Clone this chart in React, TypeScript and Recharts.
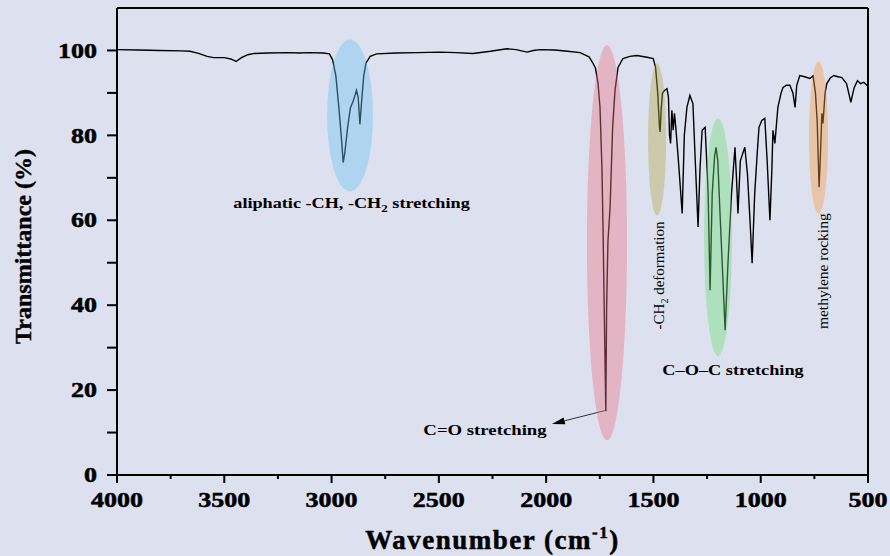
import React from "react";
import {
  LineChart,
  Line,
  XAxis,
  YAxis,
  ReferenceArea,
  ReferenceLine,
  ReferenceDot,
} from "recharts";

// FTIR spectrum
const wavenumbers = [
  4000, 3900, 3800, 3700, 3660, 3620, 3580, 3550, 3500, 3470, 3445, 3420, 3390,
  3360, 3300, 3200, 3150, 3100, 3040, 3010, 2995, 2980, 2965, 2952, 2946, 2938,
  2925, 2912, 2900, 2890, 2884, 2876, 2868, 2860, 2850, 2840, 2820, 2790, 2700,
  2600, 2495, 2420, 2341, 2260, 2183, 2140, 2089, 2060, 2029, 1960, 1900, 1842,
  1800, 1782, 1770, 1758, 1749, 1740, 1735, 1728, 1722, 1718, 1712, 1702, 1690,
  1679, 1665, 1642, 1610, 1577, 1530, 1501, 1490, 1480, 1472, 1469, 1464, 1458,
  1450, 1437, 1430, 1425, 1420, 1414, 1408, 1402, 1396, 1385, 1375, 1366, 1356,
  1344, 1330, 1316, 1305, 1292, 1283, 1273, 1259, 1250, 1245, 1236, 1226, 1215,
  1208, 1200, 1190, 1180, 1166, 1152, 1136, 1120, 1113, 1106, 1095, 1074, 1062,
  1050, 1040, 1028, 1016, 1008, 995, 981, 970, 957, 948, 943, 934, 920, 905,
  896, 880, 864, 850, 840, 832, 818, 795, 771, 756, 745, 737, 728, 722, 715,
  710, 700, 692, 676, 659, 640, 622, 600, 590, 580, 570, 564, 549, 535, 520,
  505, 500,
];
const transmittance = [
  100.2, 100.1, 100.0, 99.9, 99.8, 99.3, 98.6, 98.3, 98.3, 98.0, 97.4, 98.3,
  99.0, 99.3, 99.4, 99.5, 99.4, 99.5, 99.4, 99.2, 97.8, 94, 86, 78, 73.6, 76,
  82, 86.5, 88, 89.5, 90.6, 89, 82.6, 88, 94, 97, 98.6, 99.2, 99.4, 99.5, 99.6,
  99.5, 99.3, 99.8, 100.4, 100.2, 99.6, 100.0, 100.2, 100.1, 99.8, 99.5, 98.5,
  97, 95.8, 92.2, 86.6, 72.5, 58.4, 35, 15, 40, 55, 63, 82, 90.6, 96, 98.1,
  98.6, 98.8, 98.4, 98.1, 96, 90, 82, 80.8, 86, 89.9, 90.5, 91, 89, 80, 78.1,
  85.9, 81.2, 85.2, 82, 75, 68, 61.6, 80, 86.6, 89.4, 87.5, 74, 58.4, 72, 81.2,
  81.9, 72, 66.3, 43.5, 66.3, 75, 77.2, 74, 62, 50.6, 34.1, 50.6, 66.3, 77.2,
  70, 61.6, 74, 77.2, 71, 60, 49.9, 66.3, 76, 81.9, 83.5, 84, 74, 60, 72, 81.2,
  78.1, 86.6, 90, 91.3, 91.8, 91.8, 90, 86.6, 91.8, 94.1, 93.8, 93.4, 94, 90,
  83.5, 67.8, 75, 85.2, 82.8, 90, 92.2, 93.5, 94.1, 93.8, 93.6, 92.2, 90, 87.8,
  90, 91.3, 92.9, 92.2, 92.5, 91.8, 91.5,
];

const xTicks = [4000, 3750, 3500, 3250, 3000, 2750, 2500, 2250, 2000, 1750, 1500, 1250, 1000, 750, 500];
const yTicks = [0, 10, 20, 30, 40, 50, 60, 70, 80, 90, 100];

// highlighted bands: wavenumber range, transmittance range, colour
const bandX = [[3021, 2807], [1810, 1623], [1525, 1441], [1264, 1134], [775, 686]];
const bandY = [[66.8, 102.6], [8.2, 101.2], [61.2, 96.9], [28, 84], [61.6, 97.4]];
const bandColors = ["#6cc2f3", "#ee7282", "#b2ab44", "#6ce076", "#f99a3f"];

const spectrum = wavenumbers.map((w, i) => ({ w, t: transmittance[i] }));

const FONT = "'Liberation Serif', 'Times New Roman', serif";

const YTick = (props: any) => {
  const { x, y, payload } = props;
  const major = payload.value % 20 === 0;
  return (
    <g>
      <line x1={x - 10} x2={x} y1={y} y2={y} stroke="#000" strokeWidth={2} />
      {major && (
        <text
          transform={`translate(${x - 20},${y}) scale(1.3,1)`}
          textAnchor="end"
          dy="0.36em"
          fontFamily={FONT}
          fontWeight="bold"
          fontSize={20}
          fill="#000"
          stroke="#000"
          strokeWidth={0.5}
        >
          {payload.value}
        </text>
      )}
    </g>
  );
};

const XTick = (props: any) => {
  const { x, y, payload } = props;
  const major = payload.value % 500 === 0;
  return (
    <g>
      <line x1={x} x2={x} y1={y} y2={y + (major ? 8 : 4)} stroke="#000" strokeWidth={2} />
      {major && (
        <text
          transform={`translate(${x},${y + 25}) scale(1.3,1)`}
          textAnchor="middle"
          dy="0.36em"
          fontFamily={FONT}
          fontWeight="bold"
          fontSize={20}
          fill="#000"
          stroke="#000"
          strokeWidth={0.5}
        >
          {payload.value}
        </text>
      )}
    </g>
  );
};

const Ellipse = (color: string) => (p: any) => {
  const w = Math.abs(p.width);
  const h = Math.abs(p.height);
  const x = p.width < 0 ? p.x + p.width : p.x;
  const y = p.height < 0 ? p.y + p.height : p.y;
  return <ellipse cx={x + w / 2} cy={y + h / 2} rx={w / 2} ry={h / 2} fill={color} fillOpacity={0.4} />;
};

const Note = (content: React.ReactNode, opts: any = {}) => (p: any) => (
  <text
    x={0}
    y={0}
    transform={
      opts.rotate
        ? `translate(${p.cx},${p.cy}) rotate(-90)`
        : `translate(${p.cx},${p.cy}) scale(${opts.sx || 1},1)`
    }
    textAnchor="middle"
    dy="0.35em"
    fontFamily={FONT}
    fontWeight={opts.bold ? "bold" : "normal"}
    fontSize={opts.size || 14}
    fill="#000"
  >
    {content}
  </text>
);

const Arrow = (p: any) => {
  const { x1, y1, x2, y2 } = p;
  const a = Math.atan2(y2 - y1, x2 - x1);
  const len = 13;
  const hw = 3.5;
  const bx = x2 - len * Math.cos(a);
  const by = y2 - len * Math.sin(a);
  const px = -Math.sin(a) * hw;
  const py = Math.cos(a) * hw;
  return (
    <g>
      <line x1={x1} y1={y1} x2={bx} y2={by} stroke="#333" strokeWidth={1} />
      <polygon points={`${x2},${y2} ${bx + px},${by + py} ${bx - px},${by - py}`} fill="#000" />
    </g>
  );
};

const XTitle = (props: any) => {
  const { viewBox } = props;
  const cx = viewBox.x + viewBox.width / 2;
  return (
    <text
      x={cx}
      y={viewBox.y + 74}
      textAnchor="middle"
      fontFamily={FONT}
      fontWeight="bold"
      fontSize={27}
      letterSpacing={1.5}
      fill="#000"
      stroke="#000"
      strokeWidth={0.5}
    >
      Wavenumber (cm
      <tspan dy={-11} fontSize={17}>-1</tspan>
      <tspan dy={11}>)</tspan>
    </text>
  );
};

const YTitle = (props: any) => {
  const { viewBox } = props;
  const cx = 23;
  const cy = viewBox.y + viewBox.height / 2 + 5;
  return (
    <text
      x={cx}
      y={cy}
      transform={`rotate(-90 ${cx} ${cy})`}
      textAnchor="middle"
      dy="0.35em"
      fontFamily={FONT}
      fontWeight="bold"
      fontSize={24}
      fill="#000"
      stroke="#000"
      strokeWidth={0.4}
    >
      Transmittance (%)
    </text>
  );
};

export default function App() {
  return (
    <div
      style={{
        position: "absolute",
        left: 0,
        top: 0,
        width: 890,
        height: 556,
        background: "#dde0ef",
      }}
    >
      <LineChart
        width={890}
        height={556}
        data={spectrum}
        margin={{ top: 8, right: 22, left: 0, bottom: 0 }}
      >
        <XAxis
          dataKey="w"
          type="number"
          domain={[500, 4000]}
          reversed
          ticks={xTicks}
          interval={0}
          height={81}
          tickSize={0}
          tickMargin={0}
          tickLine={false}
          tick={<XTick />}
          axisLine={{ stroke: "#000", strokeWidth: 2 }}
          label={<XTitle />}
        />
        <YAxis
          type="number"
          domain={[0, 110]}
          ticks={yTicks}
          interval={0}
          width={117}
          tickSize={0}
          tickMargin={0}
          tickLine={false}
          tick={<YTick />}
          axisLine={{ stroke: "#000", strokeWidth: 2 }}
          label={<YTitle />}
        />
        <ReferenceLine y={110} stroke="#000" strokeWidth={2} />
        <ReferenceLine x={500} stroke="#000" strokeWidth={2} />
        <Line
          dataKey="t"
          type="linear"
          stroke="#000"
          strokeWidth={1.4}
          dot={false}
          isAnimationActive={false}
        />
        {bandX.map((bx, i) => (
          <ReferenceArea
            key={i}
            x1={bx[0]}
            x2={bx[1]}
            y1={bandY[i][0]}
            y2={bandY[i][1]}
            zIndex={500}
            shape={Ellipse(bandColors[i])}
          />
        ))}
        <ReferenceDot
          x={2907}
          y={64}
          r={0}
          shape={Note(
            <>
              aliphatic -CH, -CH
              <tspan dy={4} fontSize={10}>2</tspan>
              <tspan dy={-4}> stretching</tspan>
            </>,
            { bold: true, size: 14, sx: 1.3 }
          )}
        />
        <ReferenceDot x={2285} y={10.6} r={0} shape={Note("C=O stretching", { bold: true, size: 15, sx: 1.25 })} />
        <ReferenceDot x={1129} y={24.9} r={0} shape={Note("C–O–C stretching", { bold: true, size: 15, sx: 1.22 })} />
        <ReferenceDot
          x={1474}
          y={47}
          r={0}
          shape={Note(
            <>
              -CH
              <tspan dy={4} fontSize={10}>2</tspan>
              <tspan dy={-4}> deformation</tspan>
            </>,
            { rotate: true, size: 15 }
          )}
        />
        <ReferenceDot x={710} y={48} r={0} shape={Note("methylene rocking", { rotate: true, size: 15.5 })} />
        <ReferenceLine
          segment={[
            { x: 1716, y: 15.3 },
            { x: 1973, y: 12 },
          ]}
          shape={Arrow}
        />
      </LineChart>
    </div>
  );
}
